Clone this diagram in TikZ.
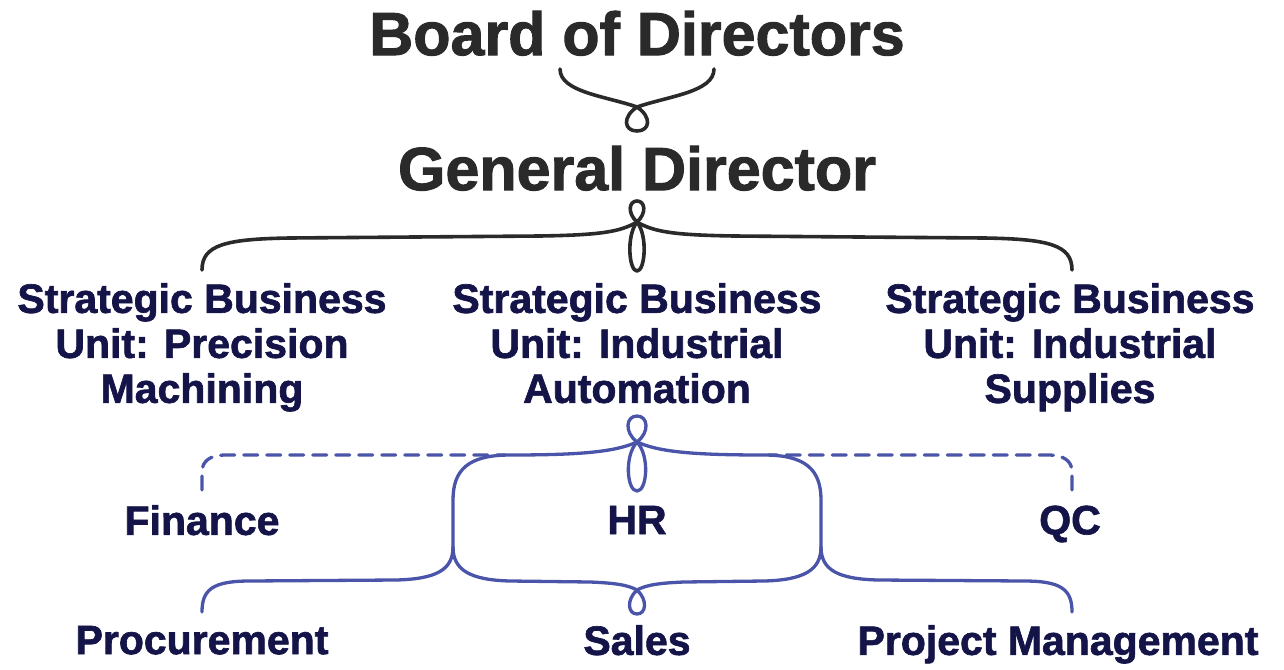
\documentclass[tikz,border=0pt]{standalone}
\usepackage{fontspec}
\setmainfont{Liberation Sans}[BoldFeatures={FakeBold=1.6}]
\usetikzlibrary{calc}
\definecolor{ink}{HTML}{2A2A2A}
\definecolor{navy}{HTML}{141448}
\definecolor{lineblue}{HTML}{4A55AA}

\begin{document}
\begin{tikzpicture}[x=1pt,y=-1pt,
title/.style={font=\fontsize{61}{61}\selectfont\bfseries, text=ink, inner sep=0pt, text depth=0pt},
unit/.style={font=\fontsize{41}{45}\selectfont\bfseries, text=navy, align=center, inner sep=0pt, text depth=0pt},
curl/.style={line width=3.6pt, draw=ink, line cap=round, line join=round},
bluecurl/.style={line width=3.3pt, draw=lineblue, line cap=round, line join=round},
dashcurl/.style={bluecurl, dash pattern=on 14pt off 9pt}]
\useasboundingbox (0,0) rectangle (1284,669);
\node[title](board) at (637,33){Board of Directors};
\node[title](gd) at (637,168){General Director};
\node[unit](sbu1) at (202,343){Strategic Business\\Unit: Precision\\Machining};
\node[unit](sbu2) at (637,343){Strategic Business\\Unit: Industrial\\Automation};
\node[unit](sbu3) at (1070,343){Strategic Business\\Unit: Industrial\\Supplies};
\node[unit](fin) at (202,520){Finance};
\node[unit](hr) at (637,520){HR};
\node[unit](qc) at (1070,520){QC};
\node[unit](proc) at (202,640){Procurement};
\node[unit](sales) at (637,640){Sales};
\node[unit](pm) at (1058,640){Project Management};
% knots and free ends
\coordinate(b1) at (560,69);
\coordinate(b2) at (714,69);
\coordinate(k1) at (637,107);
\coordinate(k2) at (637,222);
\coordinate(a1) at (202,270);
\coordinate(a3) at (1072,270);
\coordinate(k3) at (637,442);
\coordinate(uL) at (453,547);
\coordinate(uR) at (821,547);
\coordinate(k4) at (637,590);
\coordinate(d1) at (202,490);
\coordinate(d3) at (1072,490);
\coordinate(e1) at (202,612);
\coordinate(e3) at (1072,612);
% board -> general director
\draw[curl] (b1) .. controls (560,92) and (605,96) .. (k1) .. controls (652,117) and (650,131) .. (637,131)
 .. controls (624,131) and (622,117) .. (k1) .. controls (669,96) and (714,92) .. (b2);
% general director -> units
\draw[curl] (k2) .. controls (647,213) and (645,201) .. (637,201) .. controls (629,201) and (627,213) .. (k2)
 .. controls (648,236) and (645,271) .. (637,271) .. controls (629,271) and (626,236) .. (k2);
\draw[curl] (a1) .. controls (202,245) and (225,239) .. (290,238) -- (540,236) .. controls (600,235) and (620,232) .. (k2);
\draw[curl] (a3) .. controls (1072,245) and (1049,239) .. (984,238) -- (734,236) .. controls (674,235) and (654,232) .. (k2);
% automation -> functions
\draw[dashcurl] (d1) -- (202,472) .. controls (202,461) and (210,455) .. (226,455) -- (505,455);
\draw[dashcurl] (d3) -- (1072,472) .. controls (1072,461) and (1064,455) .. (1048,455) -- (769,455);
\draw[bluecurl] (k3) .. controls (650,432) and (648,416) .. (637,416) .. controls (626,416) and (624,432) .. (k3)
 .. controls (650,456) and (647,491) .. (637,491) .. controls (627,491) and (624,456) .. (k3);
\draw[bluecurl] (k3) .. controls (615,452) and (580,455) .. (510,455) .. controls (468,455) and (453,470) .. (453,500) -- (uL);
\draw[bluecurl] (k3) .. controls (659,452) and (694,455) .. (764,455) .. controls (806,455) and (821,470) .. (821,500) -- (uR);
\draw[bluecurl] (uL) .. controls (453,570) and (436,579) .. (396,580) -- (250,581) .. controls (212,581) and (202,590) .. (e1);
\draw[bluecurl] (uL) .. controls (453,570) and (470,580) .. (510,581) -- (590,582) .. controls (615,583) and (628,585) .. (k4);
\draw[bluecurl] (uR) .. controls (821,570) and (838,579) .. (878,580) -- (1024,581) .. controls (1062,581) and (1072,590) .. (e3);
\draw[bluecurl] (uR) .. controls (821,570) and (804,580) .. (764,581) -- (684,582) .. controls (659,583) and (646,585) .. (k4);
\draw[bluecurl] (k4) .. controls (648,600) and (646,614) .. (637,614) .. controls (628,614) and (626,600) .. (k4);
\end{tikzpicture}
\end{document}
